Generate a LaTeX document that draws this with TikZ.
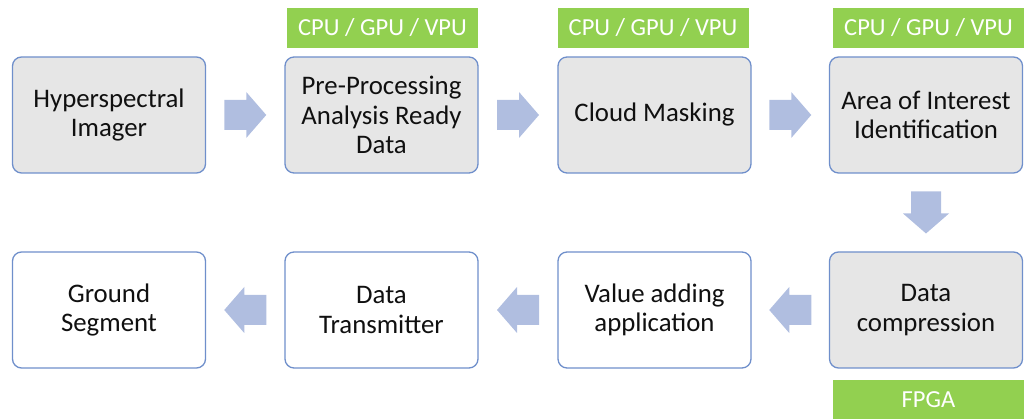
\documentclass[tikz,border=0pt]{standalone}
\usepackage{fontspec}
\setmainfont{Carlito}
\usetikzlibrary{calc}
\definecolor{boxfill}{HTML}{E6E6E6}
\definecolor{boxline}{HTML}{6F8FCB}
\definecolor{arrowc}{HTML}{B0BEE0}
\definecolor{hwgreen}{HTML}{92D050}
\definecolor{txt}{HTML}{101010}
\tikzset{
  x=1pt,y=1pt,
  stage/.style={draw=boxline, line width=1.3pt, rounded corners=9pt,
    minimum width=193pt, minimum height=116pt, align=center,
    text=txt, font=\fontsize{26.8}{29.5}\selectfont, inner sep=0pt},
  graystage/.style={stage, fill=boxfill},
  whitestage/.style={stage, fill=white},
  hw/.style={fill=hwgreen, minimum width=191pt, minimum height=40pt,
    text=white, font=\fontsize{24.5}{28}\selectfont, inner sep=0pt},
  blockarrow/.pic={\fill[arrowc] (-21,-15) -- (1,-15) -- (1,-23) -- (21,0)
    -- (1,23) -- (1,15) -- (-21,15) -- cycle;}
}
\begin{document}
\begin{tikzpicture}
\useasboundingbox (0,0) rectangle (1024,419);
% top row
\node[graystage] (b1) at (109,304) {Hyperspectral\\Imager};
\node[graystage] (b2) at (381.5,304) {Pre-Processing\\Analysis Ready\\Data};
\node[graystage] (b3) at (654.5,304) {Cloud Masking};
\node[graystage] (b4) at (926,304) {Area of Interest\\Identification};
% bottom row
\node[graystage] (b5) at (926,109) {Data\\compression};
\node[whitestage] (b6) at (654.5,109) {Value adding\\application};
\node[whitestage] (b7) at (381.5,109) {Data\\Transmitter};
\node[whitestage] (b8) at (109,109) {Ground\\Segment};
% hardware labels
\node[hw] (h2) at (382.5,391) {CPU / GPU / VPU};
\node[hw] (h3) at (653,391) {CPU / GPU / VPU};
\node[hw] (h4) at (928.5,391) {CPU / GPU / VPU};
\node[hw] (h5) at (928.5,19) {FPGA};
% block arrows
\pic at ($(b1.east)!0.5!(b2.west)$) {blockarrow};
\pic at ($(b2.east)!0.5!(b3.west)$) {blockarrow};
\pic at ($(b3.east)!0.5!(b4.west)$) {blockarrow};
\pic[rotate=-90] at ($(b4.south)!0.5!(b5.north)$) {blockarrow};
\pic[rotate=180] at ($(b5.west)!0.5!(b6.east)$) {blockarrow};
\pic[rotate=180] at ($(b6.west)!0.5!(b7.east)$) {blockarrow};
\pic[rotate=180] at ($(b7.west)!0.5!(b8.east)$) {blockarrow};
\end{tikzpicture}
\end{document}
